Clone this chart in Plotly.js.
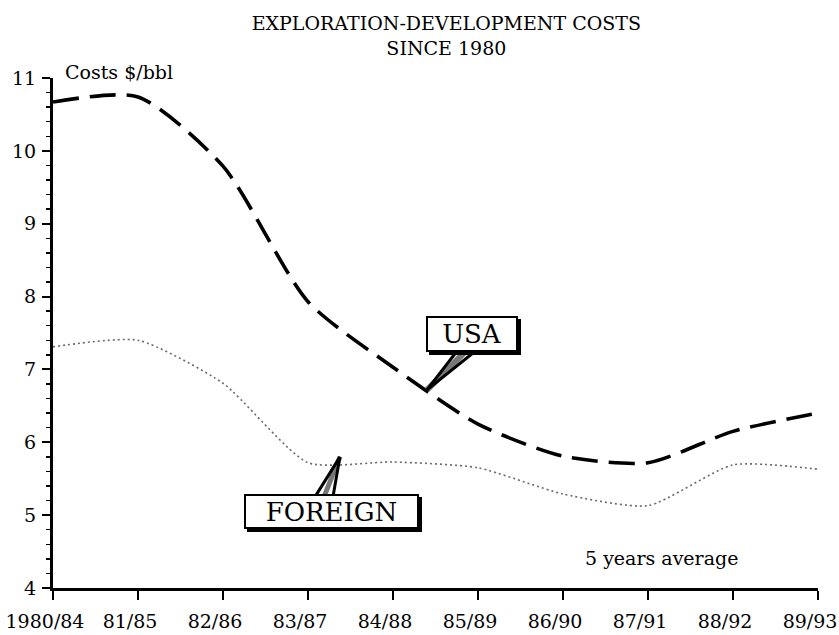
<!DOCTYPE html>
<html>
<head>
<meta charset="utf-8">
<script src="https://cdn.plot.ly/plotly-3.0.1.min.js"></script>
<style>html,body{margin:0;padding:0;background:#fff;}#chart{width:839px;height:635px;}</style>
</head>
<body>
<div id="chart"></div>
<script>
// Data
var periods = ["1980/84","81/85","82/86","83/87","84/88","85/89","86/90","87/91","88/92","89/93"];
var usaCosts = [10.67, 10.74, 9.79, 7.93, 7.03, 6.25, 5.81, 5.72, 6.15, 6.40];
var foreignCosts = [7.31, 7.40, 6.81, 5.72, 5.73, 5.65, 5.29, 5.13, 5.69, 5.63];
var yTicks = [4,5,6,7,8,9,10,11];

var F = "DejaVu Serif, serif";

var traces = [
  {x: periods, y: foreignCosts, type: "scatter", mode: "lines", name: "FOREIGN",
   line: {color: "#6a6a6a", width: 1.6, dash: "2px,3px", shape: "spline", smoothing: 0.6}},
  {x: periods, y: usaCosts, type: "scatter", mode: "lines", name: "USA",
   line: {color: "#000", width: 3.6, dash: "26px,11px", shape: "spline", smoothing: 0.7}}
];

function wedge(x, y, ax, ay, color, w) {
  return {x: x, y: y, xref: "x", yref: "y", text: " ", font: {size: 1},
          showarrow: true, arrowhead: 0, arrowwidth: w, arrowcolor: color,
          ax: ax, ay: ay, standoff: 0, startstandoff: 0};
}
function box(x, y, label, w, h, shadow) {
  var a = {x: x, y: y, xref: "x", yref: "y", text: shadow ? " " : label, showarrow: false,
           font: {family: F, size: 26, color: "#000"},
           width: w, height: h, borderwidth: 2,
           bordercolor: "#000", bgcolor: shadow ? "#000" : "#fff"};
  if (shadow) { a.xshift = 3; a.yshift = -3; }
  return a;
}

var layout = {
  width: 839, height: 635,
  paper_bgcolor: "#fff", plot_bgcolor: "#fff",
  margin: {l: 53, r: 21, t: 78, b: 47},
  showlegend: false,
  font: {family: F, color: "#000", size: 19},
  title: {text: "EXPLORATION-DEVELOPMENT COSTS<br>SINCE 1980",
          font: {family: F, size: 19, color: "#000"},
          x: 0.532, xref: "container", xanchor: "center",
          y: 0.953, yref: "container", yanchor: "top"},
  xaxis: {type: "category", range: [0, 9], showgrid: false, zeroline: false,
          showline: true, linecolor: "#000", linewidth: 3,
          ticks: "outside", ticklen: 9, tickwidth: 2, tickcolor: "#000",
          tickfont: {family: F, size: 19, color: "#000"}, ticklabelstandoff: 5,
          ticklabelshift: -8},
  yaxis: {range: [4, 11], tickvals: yTicks, showgrid: false, zeroline: false,
          showline: true, linecolor: "#000", linewidth: 3,
          ticks: "outside", ticklen: 8, tickwidth: 2, tickcolor: "#000",
          tickfont: {family: F, size: 19, color: "#000"}, ticklabelstandoff: 2,
          minor: {dtick: 0.2, ticks: "outside", ticklen: 4, tickwidth: 1.5, tickcolor: "#000"}},
  annotations: [
    {x: 0.013, y: 1.012, xref: "paper", yref: "paper", xanchor: "left", yanchor: "middle",
     text: "Costs $/bbl", showarrow: false, font: {family: F, size: 19, color: "#000"}},
    {x: 7.16, y: 4.41, xref: "x", yref: "y", xanchor: "center", yanchor: "middle",
     text: "5 years average", showarrow: false, font: {family: F, size: 19, color: "#000"}},
    // USA pointer
    wedge(4.4, 6.72, 40, -40, "#777", 6),
    wedge(4.4, 6.72, 31, -40, "#000", 3),
    wedge(4.4, 6.72, 50, -40, "#000", 3),
    box(4.93, 7.49, "USA", 86, 30, true),
    box(4.93, 7.49, "USA", 86, 30, false),
    // FOREIGN pointer
    wedge(3.376, 5.8, -16, 40, "#777", 5),
    wedge(3.376, 5.8, -25, 40, "#000", 3),
    wedge(3.376, 5.8, -7, 40, "#000", 3),
    box(3.276, 5.05, "FOREIGN", 169, 29, true),
    box(3.276, 5.05, "FOREIGN", 169, 29, false)
  ]
};

Plotly.newPlot("chart", traces, layout, {staticPlot: true, displayModeBar: false});
</script>
</body>
</html>
